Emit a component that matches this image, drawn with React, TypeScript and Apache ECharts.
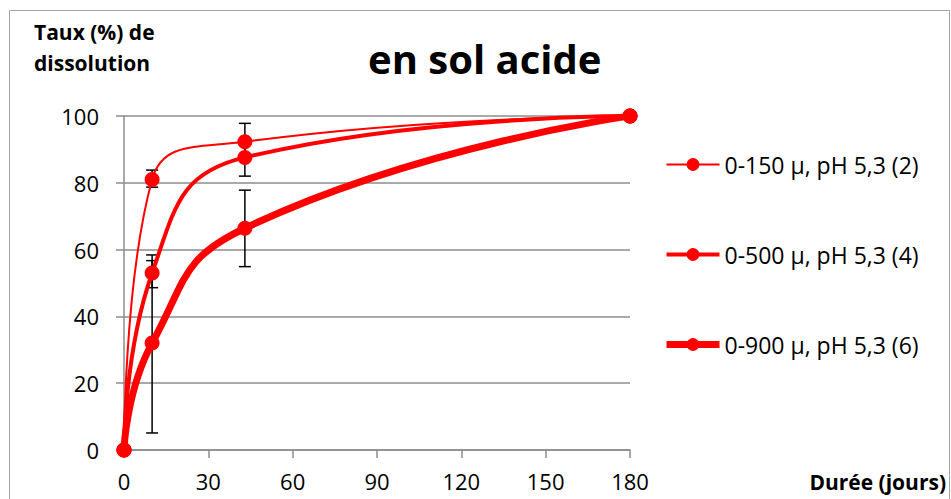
import React, { useEffect, useRef } from "react";
import * as echarts from "echarts";

const xTicks = [0, 30, 60, 90, 120, 150, 180];
const seriesNames = ["0-150 µ, pH 5,3 (2)", "0-500 µ, pH 5,3 (4)", "0-900 µ, pH 5,3 (6)"];
const days = [0, 10, 43, 180];
const s150 = [0, 81, 92.3, 100];
const s500 = [0, 53, 87.6, 100];
const s900 = [0, 32, 66.4, 100];
const lineWidths = [2, 4, 7];
// error bars: [day, low, high]
const err150 = [[10, 78.7, 83.8], [43, 86.8, 97.8]];
const err500 = [[10, 48.6, 58.4], [43, 82, 93.2]];
const err900 = [[10, 5.1, 56.7], [43, 54.9, 77.8]];

const FONT = "'Open Sans', Lato, sans-serif";

export default function App() {
  const ref = useRef<HTMLDivElement>(null);
  useEffect(() => {
    if (!ref.current) return;
    const chart = echarts.init(ref.current, null, { renderer: "svg" });
    const values = [s150, s500, s900];
    const errs = [err150, err500, err900];
    const lineSeries = values.map((vals, i) => ({
      name: seriesNames[i],
      type: "line",
      data: days.map((d, k) => [d, vals[k]]),
      smooth: 0.5,
      symbol: "circle",
      symbolSize: 15,
      z: 3,
      itemStyle: { color: "#ff0000" },
      lineStyle: { color: "#ff0000", width: lineWidths[i] },
    }));
    const errSeries = errs.map((e) => ({
      type: "custom",
      z: 1,
      data: e,
      encode: { x: 0, y: [1, 2] },
      renderItem: (params: any, api: any) => {
        const x = api.value(0);
        const lo = api.coord([x, api.value(1)]);
        const hi = api.coord([x, api.value(2)]);
        const w = 6;
        const st = { stroke: "#000", lineWidth: 1.5 };
        return {
          type: "group",
          children: [
            { type: "line", shape: { x1: lo[0], y1: lo[1], x2: hi[0], y2: hi[1] }, style: st },
            { type: "line", shape: { x1: lo[0] - w, y1: lo[1], x2: lo[0] + w, y2: lo[1] }, style: st },
            { type: "line", shape: { x1: hi[0] - w, y1: hi[1], x2: hi[0] + w, y2: hi[1] }, style: st },
          ],
        };
      },
    }));
    chart.setOption({
      animation: false,
      backgroundColor: "#fff",
      textStyle: { fontFamily: FONT },
      title: [
        { text: "en sol acide", left: 368, top: 38, padding: 0, textStyle: { fontFamily: FONT, fontSize: 40, fontWeight: "bold", color: "#000" } },
        { text: "Taux (%) de\ndissolution", left: 34, top: 16, padding: 0, textStyle: { fontFamily: FONT, fontSize: 21, fontWeight: "bold", color: "#000", lineHeight: 31 } },
        { text: "Durée (jours)", right: 5, top: 471, padding: 0, textStyle: { fontFamily: FONT, fontSize: 21, fontWeight: "bold", color: "#000" } },
      ],
      graphic: [
        { type: "rect", shape: { x: 9.5, y: 10.5, width: 940, height: 500 }, style: { fill: "none", stroke: "#a6a6a6", lineWidth: 1 }, silent: true },
      ],
      legend: {
        orient: "vertical",
        left: 663,
        top: 153,
        padding: 0,
        itemWidth: 53,
        itemHeight: 16,
        itemGap: 67,
        textStyle: { fontFamily: FONT, fontSize: 23, color: "#000" },
        data: seriesNames.map((n, i) => ({ name: n, lineStyle: { width: lineWidths[i], color: "#ff0000" } })),
      },
      grid: { left: 124, right: 321, top: 116, bottom: 49 },
      xAxis: {
        type: "value",
        min: 0,
        max: 180,
        interval: 30,
        axisLine: { lineStyle: { color: "#8c8c8c", width: 1.5 } },
        axisTick: { show: true, length: 8, inside: false, lineStyle: { color: "#8c8c8c", width: 1.5 } },
        axisLabel: { fontSize: 22, color: "#000", margin: 20, fontFamily: FONT },
        splitLine: { show: false },
      },
      yAxis: {
        type: "value",
        min: 0,
        max: 100,
        interval: 20,
        axisLine: { show: true, lineStyle: { color: "#8c8c8c", width: 1.5 } },
        axisTick: { show: true, length: 8, lineStyle: { color: "#8c8c8c", width: 1.5 } },
        axisLabel: { fontSize: 22, color: "#000", margin: 25, fontFamily: FONT },
        splitLine: { show: true, lineStyle: { color: "#8c8c8c", width: 1.5 } },
      },
      series: [...errSeries, ...lineSeries],
    });
    return () => chart.dispose();
  }, []);
  return <div ref={ref} style={{ position: "absolute", left: 0, top: 0, width: 951, height: 499 }} />;
}
